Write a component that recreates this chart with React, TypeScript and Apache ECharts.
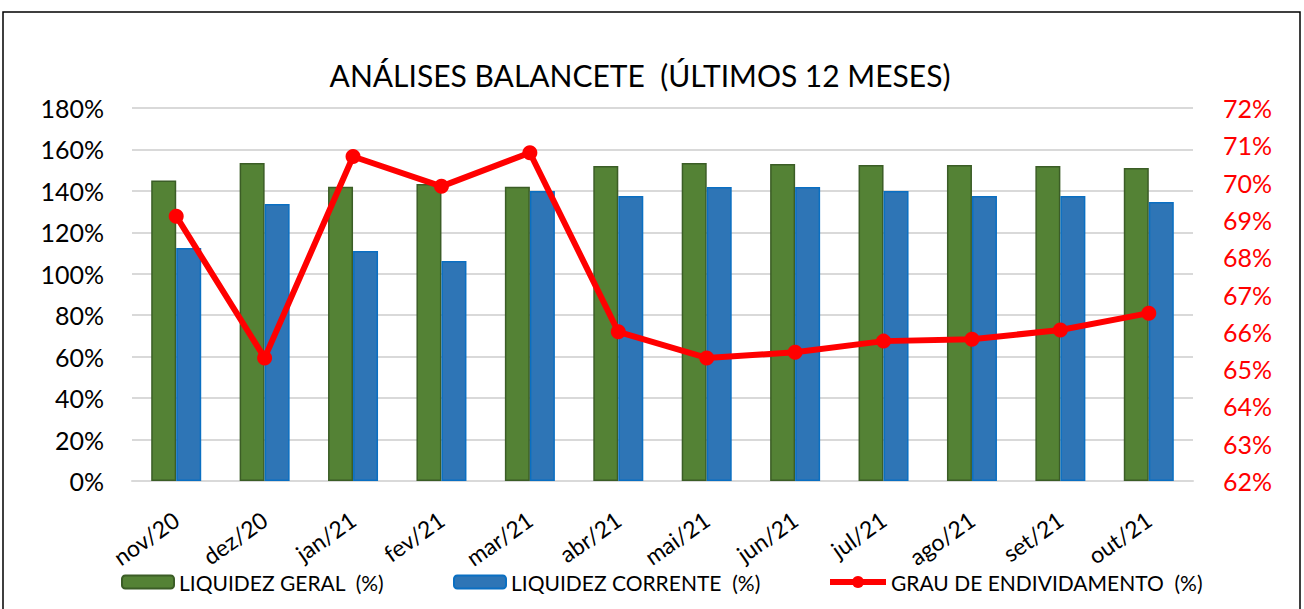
import React, { useEffect, useRef } from "react";
import * as echarts from "echarts";

const categories = ["nov/20", "dez/20", "jan/21", "fev/21", "mar/21", "abr/21", "mai/21", "jun/21", "jul/21", "ago/21", "set/21", "out/21"];
const liquidezGeral = [145, 153.5, 142, 143.3, 142, 152, 153.5, 153, 152.5, 152.5, 152, 151];
const liquidezCorrente = [112.4, 133.7, 111, 106.2, 140, 137.5, 141.9, 141.9, 140, 137.5, 137.5, 134.6];
const endividamento = [69.1, 65.3, 70.7, 69.9, 70.8, 66.0, 65.3, 65.45, 65.75, 65.8, 66.05, 66.5];

const titleText = "ANÁLISES BALANCETE  (ÚLTIMOS 12 MESES)";
const nameGeral = "LIQUIDEZ GERAL  (%)";
const nameCorrente = "LIQUIDEZ CORRENTE  (%)";
const nameEndiv = "GRAU DE ENDIVIDAMENTO  (%)";

const FONT = "Lato";

export default function App() {
  const ref = useRef<HTMLDivElement>(null);
  useEffect(() => {
    document.body.style.margin = "0";
    const chart = echarts.init(ref.current!, null, { renderer: "svg" });
    const legendText = { fontFamily: FONT, fontSize: 21, color: "#000", lineHeight: 24 };
    chart.setOption({
      animation: false,
      backgroundColor: "#fff",
      graphic: [
        {
          type: "rect",
          z: -10,
          shape: { x: 3, y: 12, width: 1297, height: 640 },
          style: { fill: "none", stroke: "#000", lineWidth: 1.5 },
        },
        {
          type: "text",
          x: 640,
          y: 75,
          style: {
            text: titleText,
            fill: "#000",
            fontFamily: FONT,
            fontSize: 30,
            align: "center",
            verticalAlign: "middle",
          },
        },
      ],
      legend: [
        { left: 121, top: 570, padding: 0, itemWidth: 52, itemHeight: 13, data: [nameGeral], textStyle: legendText },
        { left: 453, top: 570, padding: 0, itemWidth: 52, itemHeight: 13, data: [nameCorrente], textStyle: legendText },
        {
          left: 827,
          top: 570,
          padding: 0,
          itemWidth: 56,
          itemHeight: 15,
          data: [nameEndiv],
          textStyle: legendText,
          lineStyle: { width: 6, color: "#ff0000" },
          itemStyle: { color: "#ff0000" },
        },
      ],
      grid: { left: 132, right: 111, top: 108, bottom: 128, containLabel: false },
      xAxis: {
        type: "category",
        data: categories,
        axisTick: { show: false },
        axisLine: { lineStyle: { color: "#d9d9d9", width: 2 } },
        axisLabel: { rotate: 35, margin: 36, interval: 0, fontFamily: FONT, fontSize: 23, color: "#000" },
      },
      yAxis: [
        {
          type: "value",
          min: 0,
          max: 180,
          interval: 20,
          axisLabel: { formatter: "{value}%", fontFamily: FONT, fontSize: 25, color: "#000", margin: 28 },
          splitLine: { lineStyle: { color: "#d9d9d9", width: 2 } },
          axisLine: { show: false },
          axisTick: { show: false },
        },
        {
          type: "value",
          position: "right",
          min: 62,
          max: 72,
          interval: 1,
          axisLabel: { formatter: "{value}%", fontFamily: FONT, fontSize: 25, color: "#ff0000", margin: 30 },
          splitLine: { show: false },
          axisLine: { show: false },
          axisTick: { show: false },
        },
      ],
      series: [
        {
          name: nameGeral,
          type: "bar",
          data: liquidezGeral,
          barWidth: 25,
          barGap: "0%",
          itemStyle: { color: "#548235", borderColor: "#3b5d26", borderWidth: 1.5 },
        },
        {
          name: nameCorrente,
          type: "bar",
          data: liquidezCorrente,
          barWidth: 25,
          barGap: "0%",
          itemStyle: { color: "#2e75b6", borderColor: "#0a6fc2", borderWidth: 1.5 },
        },
        {
          name: nameEndiv,
          type: "line",
          yAxisIndex: 1,
          data: endividamento,
          symbol: "circle",
          symbolSize: 15,
          z: 10,
          itemStyle: { color: "#ff0000" },
          lineStyle: { color: "#ff0000", width: 6 },
        },
      ],
    });
    return () => chart.dispose();
  }, []);
  return <div ref={ref} style={{ width: 1304, height: 609 }} />;
}
